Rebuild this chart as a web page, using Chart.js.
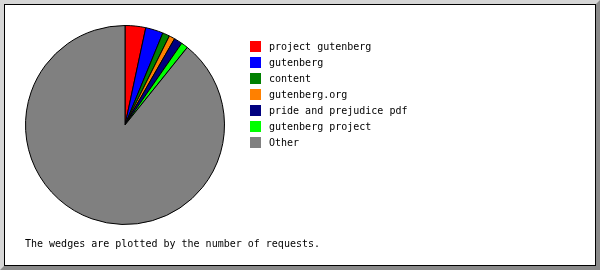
<!DOCTYPE html>
<html>
<head>
<meta charset="utf-8">
<script src="https://cdn.jsdelivr.net/npm/chart.js@4/dist/chart.umd.min.js"></script>
<style>
  html, body { margin: 0; padding: 0; background: #fff; }
  #frame {
    position: relative;
    width: 600px; height: 270px;
    box-sizing: border-box;
    border-style: solid;
    border-width: 4px;
    border-color: #d6d6d6 #8a8a8a #8a8a8a #d6d6d6;
    background: #d6d6d6;
  }
  #inner {
    position: absolute; left: 0; top: 0; right: 0; bottom: 0;
    border: 1px solid #000;
    background: #fff;
  }
  #myChart { position: absolute; left: -5px; top: -5px; }
</style>
</head>
<body>
<div id="frame"><div id="inner"><canvas id="myChart" width="600" height="270"></canvas></div></div>
<script>
    let labels = ['project gutenberg', 'gutenberg', 'content', 'gutenberg.org', 'pride and prejudice pdf', 'gutenberg project', 'Other'];
    let requests = [335, 286, 115, 94, 136, 111, 8923];
    let colors = ['#ff0000', '#0000ff', '#008000', '#ff8000', '#000080', '#00ff00', '#808080'];
    let note = 'The wedges are plotted by the number of requests.';

    let font = '10px "DejaVu Sans Mono", monospace';

    // legend + footnote drawn next to the pie
    let sideText = {
        id: 'sideText',
        afterDraw: function(chart){
            let ctx = chart.ctx;
            ctx.save();
            ctx.font = font;
            ctx.textBaseline = 'middle';
            ctx.textAlign = 'left';
            chart.data.labels.forEach(function(lab, i){
                let y = 46 + i * 16;
                ctx.fillStyle = chart.data.datasets[0].backgroundColor[i];
                ctx.fillRect(250, y - 5, 11, 11);
                ctx.fillStyle = '#000';
                ctx.fillText(lab, 269, y + 1);
            });
            ctx.fillText(note, 25, 244);
            ctx.restore();
        }
    };

    var ctx = document.getElementById('myChart').getContext('2d');
    var chart = new Chart(ctx, {
        type: 'pie',
        data: {
            labels: labels,
            datasets: [{
                data: requests,
                backgroundColor: colors,
                borderColor: '#000',
                borderWidth: 1
            }]
        },
        options: {
            responsive: false,
            animation: false,
            layout: { padding: { left: 25, top: 25, right: 375, bottom: 45 } },
            plugins: {
                legend: { display: false },
                tooltip: { enabled: false }
            }
        },
        plugins: [sideText]
    });
</script>
</body>
</html>
